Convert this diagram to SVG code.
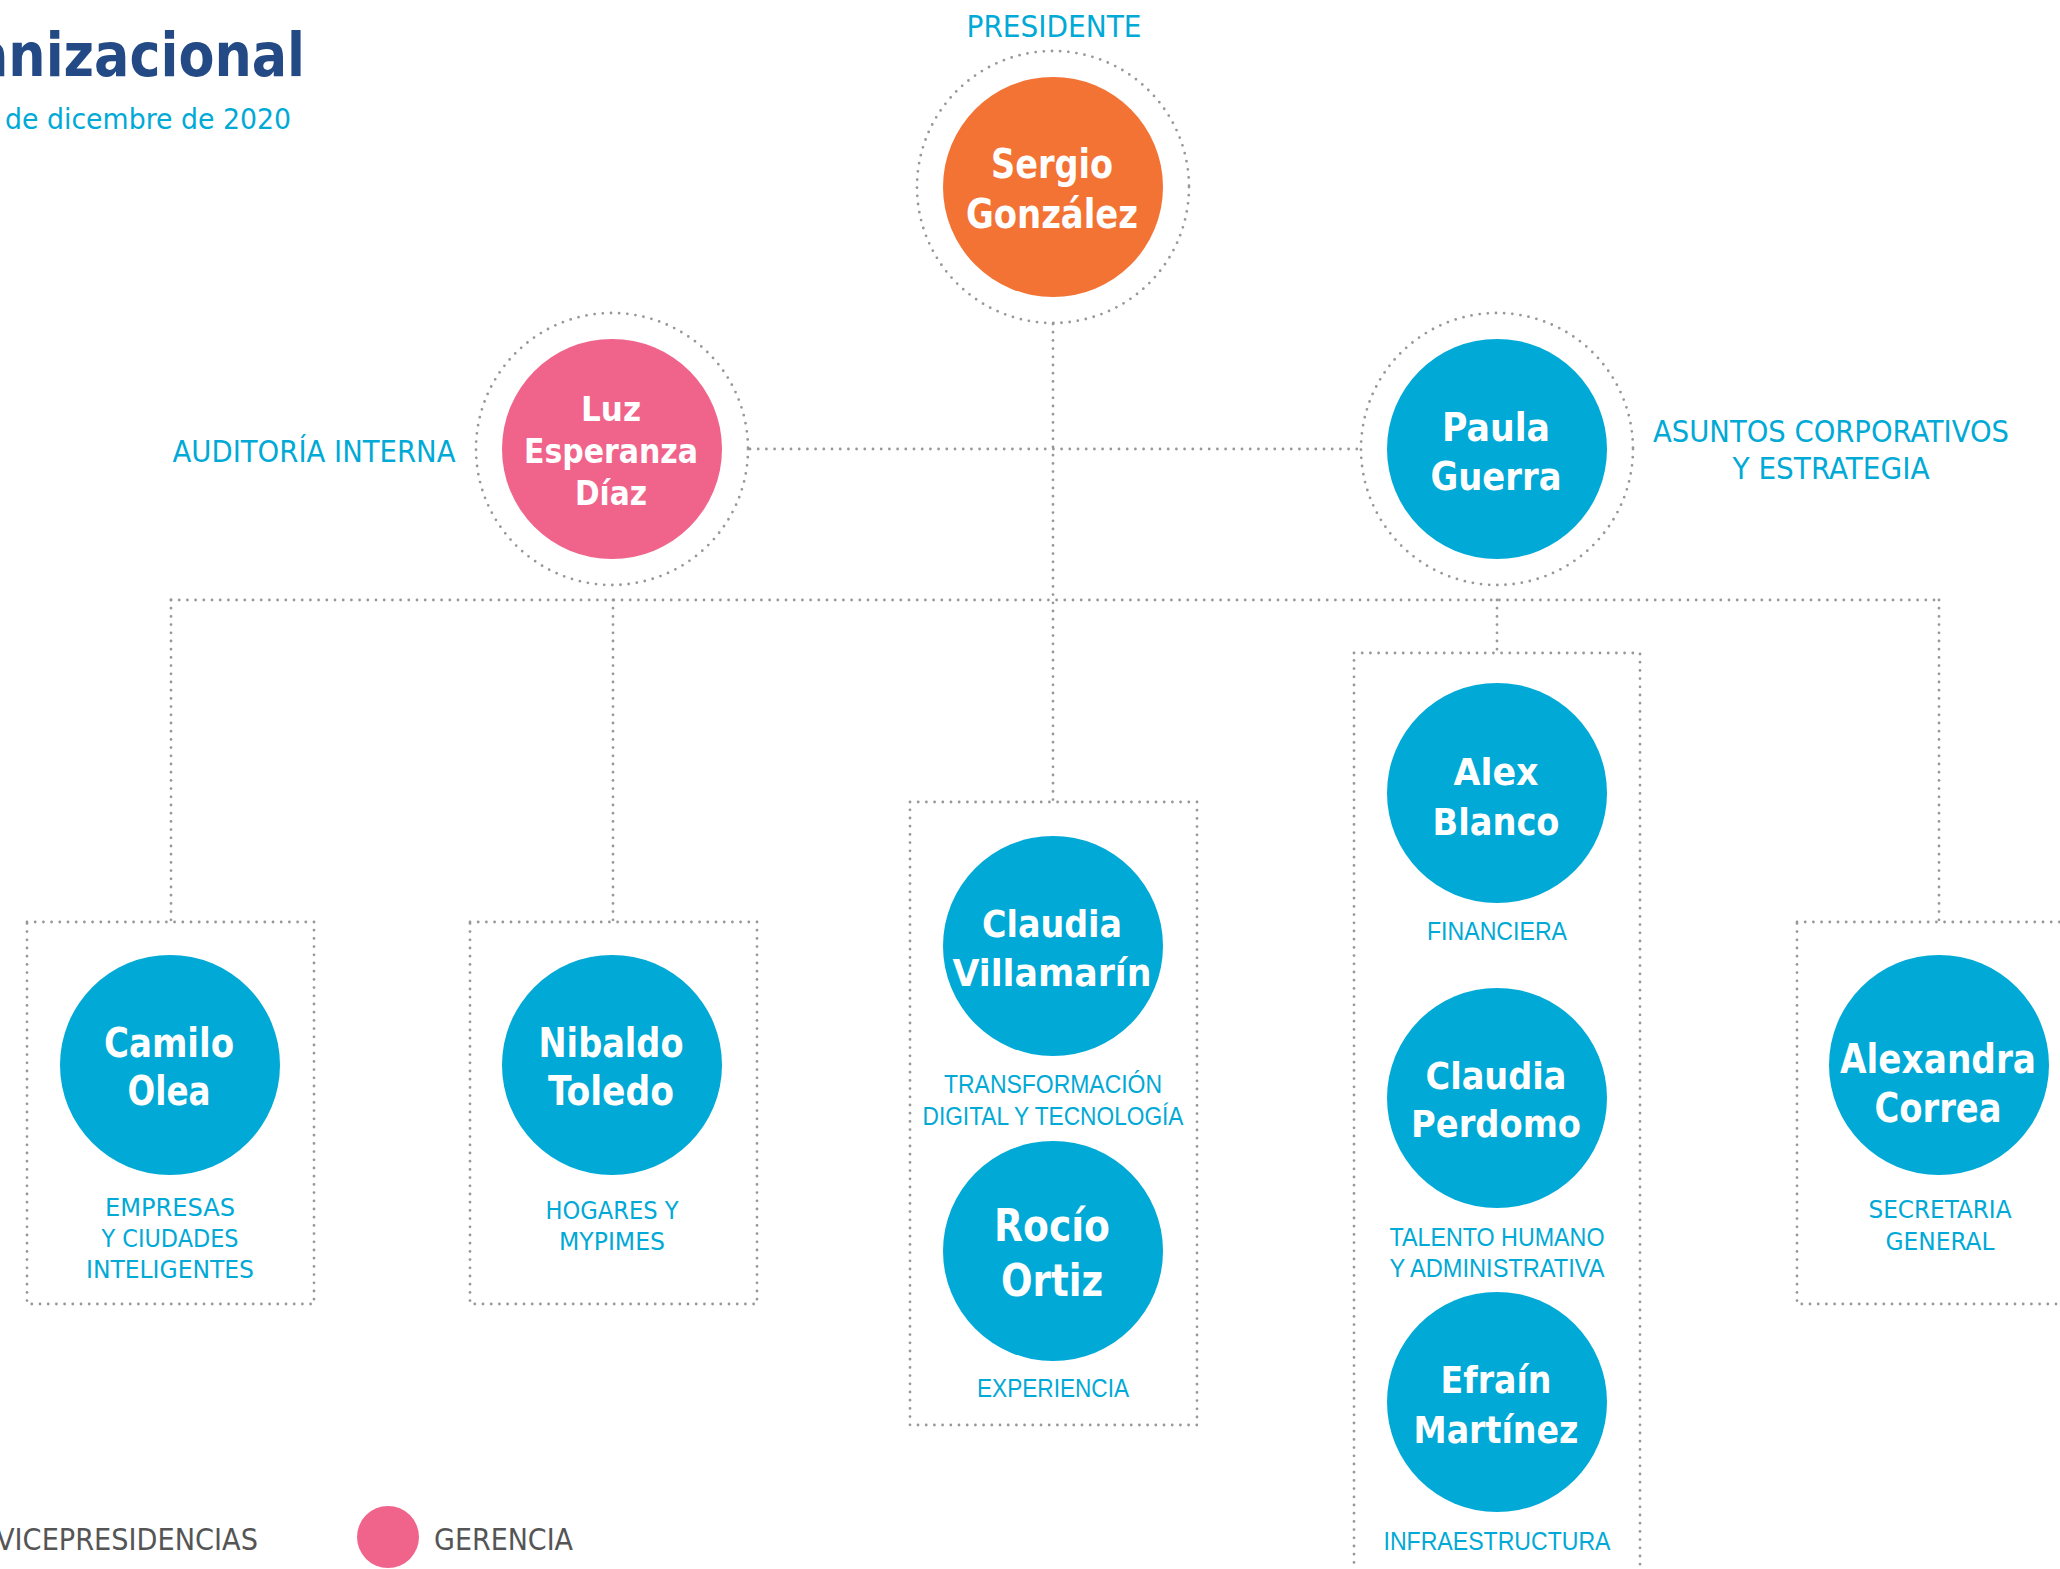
<svg xmlns="http://www.w3.org/2000/svg" width="2060" height="1569" viewBox="0 0 2060 1569">
<style>
.dot{fill:none;stroke:#989898;stroke-width:2.8;stroke-linecap:round;stroke-dasharray:0 8.2}
.blue{fill:#00a9d6}
.pink{fill:#f0648c}
.orange{fill:#f37335}
.nm{font-family:"DejaVu Sans Condensed","Liberation Sans Narrow","Roboto",sans-serif;font-weight:bold;fill:#fff;text-anchor:middle}
.nw{font-family:"DejaVu Sans","Liberation Sans",sans-serif;font-weight:bold;fill:#fff;text-anchor:middle}
.lb{font-family:"DejaVu Sans Condensed","Liberation Sans Narrow","Roboto",sans-serif;fill:#00a9d6;text-anchor:middle}
.lw{font-family:"Liberation Sans","DejaVu Sans",sans-serif;fill:#00a9d6;text-anchor:middle}
.lg{font-family:"DejaVu Sans Condensed","Liberation Sans Narrow","Roboto",sans-serif;fill:#555}
</style>
<rect width="2060" height="1569" fill="#fff"/>
<g id="title">
<text x="305" y="76" text-anchor="end" font-family="DejaVu Sans Condensed, Liberation Sans Narrow, Roboto, sans-serif" font-weight="bold" font-size="60" fill="#244a86" textLength="332" lengthAdjust="spacingAndGlyphs">anizacional</text>
<text x="5" y="129" font-family="DejaVu Sans Condensed, Liberation Sans Narrow, Roboto, sans-serif" font-size="29" fill="#00a9d6" textLength="286" lengthAdjust="spacingAndGlyphs">de dicembre de 2020</text>
</g>
<g id="connectors">
<line class="dot" x1="1053" y1="324" x2="1053" y2="802"/>
<line class="dot" x1="750" y1="449" x2="1360" y2="449"/>
<line class="dot" x1="171" y1="600" x2="1939" y2="600"/>
<line class="dot" x1="171" y1="600" x2="171" y2="922"/>
<line class="dot" x1="613" y1="600" x2="613" y2="922"/>
<line class="dot" x1="1497" y1="600" x2="1497" y2="653"/>
<line class="dot" x1="1939" y1="600" x2="1939" y2="922"/>
</g>
<g id="groups">
<rect class="dot" x="27" y="922" width="287" height="382"/>
<rect class="dot" x="470" y="922" width="287" height="382"/>
<rect class="dot" x="910" y="802" width="287" height="623"/>
<rect class="dot" x="1354" y="653" width="286" height="960"/>
<rect class="dot" x="1797" y="922" width="287" height="382"/>
</g>
<g id="sergio">
<text class="lb" x="1054" y="37" font-size="30" textLength="175" lengthAdjust="spacingAndGlyphs">PRESIDENTE</text>
<circle class="dot" cx="1053" cy="187" r="136"/>
<circle class="orange" cx="1053" cy="187" r="110"/>
<text class="nm" x="1052" y="178" font-size="40" textLength="122" lengthAdjust="spacingAndGlyphs">Sergio</text>
<text class="nm" x="1052" y="228" font-size="40" textLength="172" lengthAdjust="spacingAndGlyphs">González</text>
</g>
<g id="luz">
<text class="lb" x="314" y="462" font-size="30" textLength="283" lengthAdjust="spacingAndGlyphs">AUDITORÍA INTERNA</text>
<circle class="dot" cx="612" cy="449" r="136"/>
<circle class="pink" cx="612" cy="449" r="110"/>
<text class="nm" x="611" y="421" font-size="34" textLength="60" lengthAdjust="spacingAndGlyphs">Luz</text>
<text class="nm" x="611" y="463" font-size="34" textLength="174" lengthAdjust="spacingAndGlyphs">Esperanza</text>
<text class="nm" x="611" y="505" font-size="34" textLength="72" lengthAdjust="spacingAndGlyphs">Díaz</text>
</g>
<g id="paula">
<circle class="dot" cx="1497" cy="449" r="136"/>
<circle class="blue" cx="1497" cy="449" r="110"/>
<text class="nm" x="1496" y="441" font-size="39" textLength="108" lengthAdjust="spacingAndGlyphs">Paula</text>
<text class="nm" x="1496" y="490" font-size="39" textLength="131" lengthAdjust="spacingAndGlyphs">Guerra</text>
<text class="lb" x="1831" y="442" font-size="30" textLength="356" lengthAdjust="spacingAndGlyphs">ASUNTOS CORPORATIVOS</text>
<text class="lb" x="1831" y="479" font-size="30" textLength="197" lengthAdjust="spacingAndGlyphs">Y ESTRATEGIA</text>
</g>
<g id="camilo">
<circle class="blue" cx="170" cy="1065" r="110"/>
<text class="nm" x="169" y="1057" font-size="40" textLength="130" lengthAdjust="spacingAndGlyphs">Camilo</text>
<text class="nm" x="169" y="1105" font-size="40" textLength="83" lengthAdjust="spacingAndGlyphs">Olea</text>
<text class="lb" x="170" y="1216" font-size="25" textLength="130" lengthAdjust="spacingAndGlyphs">EMPRESAS</text>
<text class="lb" x="170" y="1247" font-size="25" textLength="137" lengthAdjust="spacingAndGlyphs">Y CIUDADES</text>
<text class="lb" x="170" y="1278" font-size="25" textLength="168" lengthAdjust="spacingAndGlyphs">INTELIGENTES</text>
</g>
<g id="nibaldo">
<circle class="blue" cx="612" cy="1065" r="110"/>
<text class="nm" x="611" y="1057" font-size="40" textLength="145" lengthAdjust="spacingAndGlyphs">Nibaldo</text>
<text class="nm" x="611" y="1105" font-size="40" textLength="126" lengthAdjust="spacingAndGlyphs">Toledo</text>
<text class="lb" x="612" y="1219" font-size="25" textLength="133" lengthAdjust="spacingAndGlyphs">HOGARES Y</text>
<text class="lb" x="612" y="1250" font-size="25" textLength="106" lengthAdjust="spacingAndGlyphs">MYPIMES</text>
</g>
<g id="claudia-villamarin">
<circle class="blue" cx="1053" cy="946" r="110"/>
<text class="nw" x="1052" y="937" font-size="38" textLength="140" lengthAdjust="spacingAndGlyphs">Claudia</text>
<text class="nw" x="1052" y="986" font-size="38" textLength="199" lengthAdjust="spacingAndGlyphs">Villamarín</text>
<text class="lw" x="1053" y="1093" font-size="25" textLength="218" lengthAdjust="spacingAndGlyphs">TRANSFORMACIÓN</text>
<text class="lw" x="1053" y="1125" font-size="25" textLength="261" lengthAdjust="spacingAndGlyphs">DIGITAL Y TECNOLOGÍA</text>
</g>
<g id="rocio">
<circle class="blue" cx="1053" cy="1251" r="110"/>
<text class="nw" x="1052" y="1241" font-size="44" textLength="116" lengthAdjust="spacingAndGlyphs">Rocío</text>
<text class="nw" x="1052" y="1296" font-size="44" textLength="102" lengthAdjust="spacingAndGlyphs">Ortiz</text>
<text class="lw" x="1053" y="1397" font-size="25" textLength="152" lengthAdjust="spacingAndGlyphs">EXPERIENCIA</text>
</g>
<g id="alex">
<circle class="blue" cx="1497" cy="793" r="110"/>
<text class="nw" x="1496" y="785" font-size="38" textLength="85" lengthAdjust="spacingAndGlyphs">Alex</text>
<text class="nw" x="1496" y="835" font-size="38" textLength="127" lengthAdjust="spacingAndGlyphs">Blanco</text>
<text class="lw" x="1497" y="940" font-size="25" textLength="140" lengthAdjust="spacingAndGlyphs">FINANCIERA</text>
</g>
<g id="claudia-perdomo">
<circle class="blue" cx="1497" cy="1098" r="110"/>
<text class="nw" x="1496" y="1089" font-size="38" textLength="141" lengthAdjust="spacingAndGlyphs">Claudia</text>
<text class="nw" x="1496" y="1137" font-size="38" textLength="170" lengthAdjust="spacingAndGlyphs">Perdomo</text>
<text class="lw" x="1497" y="1246" font-size="25" textLength="215" lengthAdjust="spacingAndGlyphs">TALENTO HUMANO</text>
<text class="lw" x="1497" y="1277" font-size="25" textLength="215" lengthAdjust="spacingAndGlyphs">Y ADMINISTRATIVA</text>
</g>
<g id="efrain">
<circle class="blue" cx="1497" cy="1402" r="110"/>
<text class="nw" x="1496" y="1393" font-size="38" textLength="111" lengthAdjust="spacingAndGlyphs">Efraín</text>
<text class="nw" x="1496" y="1443" font-size="38" textLength="165" lengthAdjust="spacingAndGlyphs">Martínez</text>
<text class="lw" x="1497" y="1550" font-size="25" textLength="227" lengthAdjust="spacingAndGlyphs">INFRAESTRUCTURA</text>
</g>
<g id="alexandra">
<circle class="blue" cx="1939" cy="1065" r="110"/>
<text class="nm" x="1938" y="1073" font-size="40" textLength="196" lengthAdjust="spacingAndGlyphs">Alexandra</text>
<text class="nm" x="1938" y="1122" font-size="40" textLength="127" lengthAdjust="spacingAndGlyphs">Correa</text>
<text class="lb" x="1940" y="1218" font-size="25" textLength="143" lengthAdjust="spacingAndGlyphs">SECRETARIA</text>
<text class="lb" x="1940" y="1250" font-size="25" textLength="109" lengthAdjust="spacingAndGlyphs">GENERAL</text>
</g>
<g id="legend">
<text class="lg" x="258" y="1550" text-anchor="end" font-size="30" textLength="262" lengthAdjust="spacingAndGlyphs">VICEPRESIDENCIAS</text>
<circle class="pink" cx="388" cy="1537" r="31"/>
<text class="lg" x="434" y="1550" font-size="30" textLength="139" lengthAdjust="spacingAndGlyphs">GERENCIA</text>
</g>
</svg>
